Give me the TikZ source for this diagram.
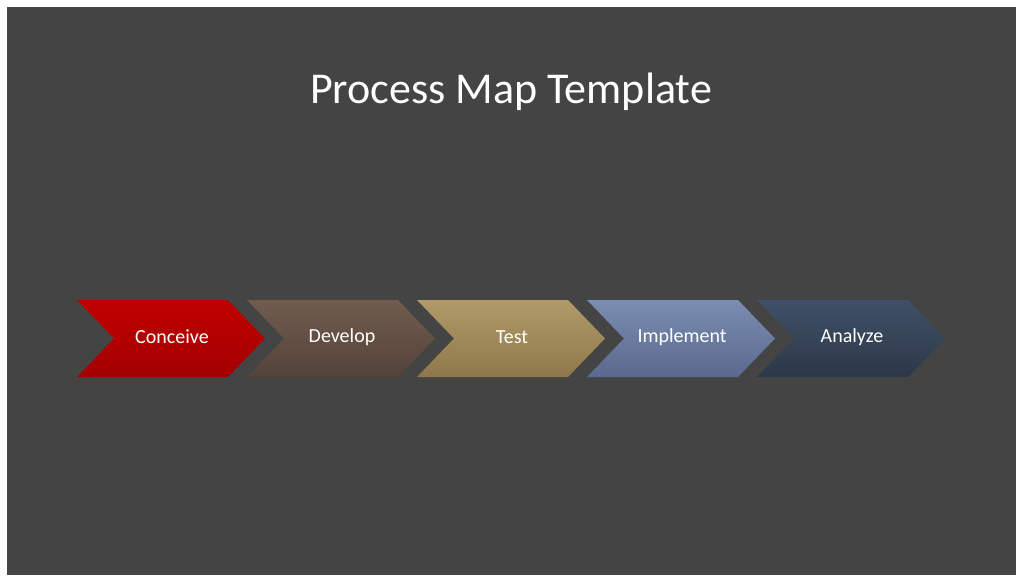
\documentclass[tikz,border=0pt]{standalone}
\usepackage{fontspec}
\setmainfont{Carlito}
\definecolor{bg}{HTML}{444444}
\tikzset{lbl/.style={text=white,font=\fontsize{20}{24}\selectfont}}
\begin{document}
\begin{tikzpicture}[x=1pt,y=-1pt]
\useasboundingbox (0,0) rectangle (1024,585);
\fill[white] (0,0) rectangle (1024,585);
\fill[bg] (7,7) rectangle (1016,575);
\node[text=white,font=\fontsize{44}{50}\selectfont] (title) at (511,92) {Process Map Template};
\foreach \i/\t/\b/\name/\txt in {0/C00000/A20000/c1/Conceive,1/715C4E/54433A/c2/Develop,2/B29B69/8E774A/c3/Test,3/7C8DB2/5A6A8E/c4/Implement,4/405066/2C3848/c5/Analyze}{
  \definecolor{topc}{HTML}{\t}\definecolor{botc}{HTML}{\b}
  \shade[top color=topc,bottom color=botc] ({77+170*\i},300) -- ({228+170*\i},300) -- ({265+170*\i},338.5) -- ({228+170*\i},377) -- ({77+170*\i},377) -- ({114+170*\i},338.5) -- cycle;
  \node[lbl] (\name) at ({172+170*\i},337) {\txt};
}
\end{tikzpicture}
\end{document}
